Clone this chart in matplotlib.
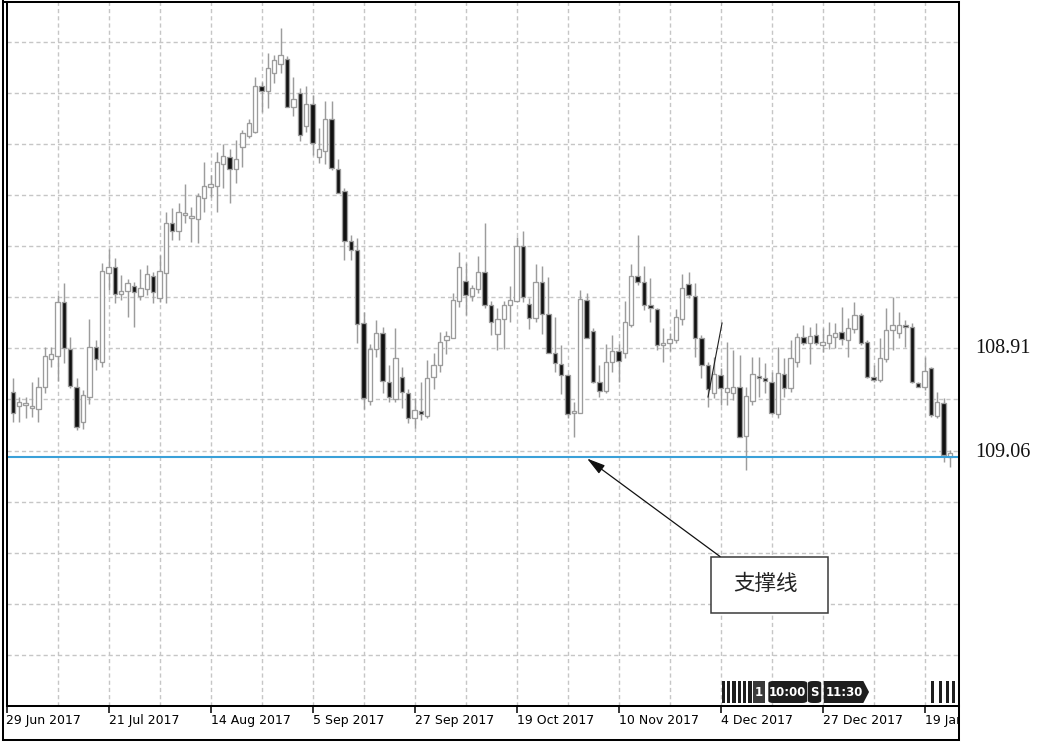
import matplotlib
matplotlib.use("Agg")
import matplotlib.pyplot as plt
import numpy as np
from matplotlib.patches import Rectangle, Polygon, FancyBboxPatch, ArrowStyle
from matplotlib.lines import Line2D
from matplotlib.transforms import Bbox, TransformedBbox, blended_transform_factory

# ---------------- data ----------------
open_ = [109.608, 109.594, 109.595, 109.592, 109.591, 109.613, 109.641, 109.644, 109.698, 109.651,
         109.613, 109.578, 109.603, 109.653, 109.638, 109.727, 109.733, 109.706, 109.709, 109.714,
         109.704, 109.711, 109.724, 109.702, 109.727, 109.777, 109.769, 109.785, 109.782, 109.781,
         109.802, 109.813, 109.814, 109.836, 109.843, 109.831, 109.853, 109.864, 109.868, 109.914,
         109.909, 109.927, 109.936, 109.941, 109.893, 109.907, 109.874, 109.896, 109.843, 109.849,
         109.881, 109.831, 109.809, 109.759, 109.750, 109.677, 109.599, 109.651, 109.667, 109.618,
         109.601, 109.623, 109.607, 109.582, 109.589, 109.584, 109.623, 109.635, 109.660, 109.662,
         109.699, 109.719, 109.704, 109.711, 109.728, 109.695, 109.666, 109.681, 109.695, 109.699,
         109.754, 109.696, 109.682, 109.718, 109.686, 109.647, 109.636, 109.625, 109.587, 109.587,
         109.700, 109.669, 109.618, 109.609, 109.638, 109.649, 109.647, 109.675, 109.724, 109.718,
         109.695, 109.691, 109.655, 109.657, 109.660, 109.681, 109.716, 109.704, 109.662, 109.635,
         109.607, 109.625, 109.608, 109.607, 109.613, 109.564, 109.599, 109.624, 109.622, 109.618,
         109.586, 109.626, 109.612, 109.638, 109.663, 109.657, 109.665, 109.655, 109.657, 109.663,
         109.668, 109.660, 109.671, 109.685, 109.658, 109.623, 109.620, 109.641, 109.670, 109.667,
         109.674, 109.673, 109.617, 109.613, 109.632, 109.584, 109.597, 109.543]
high_ = [109.622, 109.603, 109.603, 109.618, 109.623, 109.653, 109.653, 109.705, 109.717, 109.663,
         109.622, 109.610, 109.681, 109.660, 109.737, 109.751, 109.742, 109.725, 109.721, 109.718,
         109.731, 109.735, 109.728, 109.745, 109.788, 109.792, 109.797, 109.816, 109.793, 109.807,
         109.838, 109.825, 109.848, 109.856, 109.851, 109.860, 109.870, 109.881, 109.923, 109.918,
         109.947, 109.945, 109.972, 109.944, 109.923, 109.912, 109.914, 109.905, 109.872, 109.899,
         109.899, 109.841, 109.812, 109.765, 109.762, 109.688, 109.656, 109.680, 109.673, 109.635,
         109.672, 109.633, 109.611, 109.602, 109.618, 109.640, 109.647, 109.668, 109.669, 109.707,
         109.748, 109.737, 109.715, 109.744, 109.777, 109.699, 109.692, 109.699, 109.714, 109.763,
         109.769, 109.702, 109.736, 109.734, 109.723, 109.683, 109.655, 109.626, 109.598, 109.710,
         109.707, 109.672, 109.635, 109.656, 109.665, 109.656, 109.699, 109.736, 109.765, 109.734,
         109.722, 109.692, 109.672, 109.667, 109.691, 109.726, 109.728, 109.717, 109.665, 109.638,
         109.643, 109.632, 109.658, 109.650, 109.645, 109.613, 109.643, 109.643, 109.637, 109.628,
         109.653, 109.642, 109.660, 109.667, 109.675, 109.673, 109.677, 109.672, 109.678, 109.677,
         109.693, 109.682, 109.698, 109.687, 109.660, 109.635, 109.662, 109.692, 109.703, 109.688,
         109.680, 109.677, 109.618, 109.643, 109.633, 109.608, 109.602, 109.550]
low_ = [109.578, 109.578, 109.582, 109.583, 109.578, 109.607, 109.633, 109.619, 109.637, 109.612,
        109.570, 109.571, 109.596, 109.630, 109.633, 109.710, 109.697, 109.700, 109.683, 109.673,
        109.700, 109.705, 109.697, 109.698, 109.697, 109.760, 109.760, 109.777, 109.758, 109.757,
        109.788, 109.803, 109.788, 109.812, 109.797, 109.817, 109.833, 109.862, 109.867, 109.888,
        109.892, 109.917, 109.927, 109.893, 109.884, 109.859, 109.868, 109.845, 109.837, 109.836,
        109.830, 109.807, 109.740, 109.740, 109.657, 109.591, 109.595, 109.643, 109.607, 109.598,
        109.598, 109.592, 109.577, 109.572, 109.580, 109.582, 109.611, 109.628, 109.646, 109.662,
        109.693, 109.685, 109.699, 109.707, 109.692, 109.665, 109.650, 109.651, 109.678, 109.698,
        109.698, 109.671, 109.678, 109.666, 109.647, 109.628, 109.606, 109.582, 109.563, 109.587,
        109.662, 109.617, 109.603, 109.607, 109.628, 109.618, 109.642, 109.673, 109.715, 109.690,
        109.678, 109.650, 109.638, 109.649, 109.657, 109.675, 109.702, 109.643, 109.622, 109.593,
        109.602, 109.595, 109.595, 109.600, 109.563, 109.530, 109.595, 109.603, 109.607, 109.586,
        109.582, 109.603, 109.608, 109.633, 109.655, 109.636, 109.655, 109.648, 109.651, 109.652,
        109.655, 109.643, 109.667, 109.655, 109.622, 109.618, 109.618, 109.638, 109.650, 109.662,
        109.653, 109.617, 109.613, 109.610, 109.583, 109.582, 109.538, 109.533]
close_ = [109.587, 109.598, 109.597, 109.594, 109.613, 109.644, 109.646, 109.698, 109.652, 109.614,
          109.573, 109.605, 109.653, 109.641, 109.729, 109.733, 109.706, 109.709, 109.717, 109.708,
          109.712, 109.726, 109.708, 109.729, 109.777, 109.769, 109.788, 109.787, 109.784, 109.804,
          109.814, 109.816, 109.838, 109.844, 109.831, 109.841, 109.867, 109.877, 109.914, 109.909,
          109.932, 109.940, 109.945, 109.893, 109.901, 109.865, 109.896, 109.857, 109.851, 109.881,
          109.832, 109.807, 109.759, 109.750, 109.676, 109.602, 109.651, 109.667, 109.619, 109.603,
          109.642, 109.608, 109.582, 109.590, 109.586, 109.622, 109.635, 109.658, 109.664, 109.700,
          109.733, 109.705, 109.712, 109.728, 109.695, 109.678, 109.681, 109.695, 109.700, 109.754,
          109.703, 109.682, 109.718, 109.686, 109.647, 109.637, 109.625, 109.586, 109.589, 109.701,
          109.662, 109.618, 109.609, 109.638, 109.649, 109.639, 109.678, 109.724, 109.718, 109.695,
          109.692, 109.655, 109.657, 109.661, 109.683, 109.712, 109.705, 109.662, 109.635, 109.611,
          109.626, 109.612, 109.612, 109.613, 109.563, 109.604, 109.626, 109.622, 109.619, 109.587,
          109.627, 109.612, 109.642, 109.663, 109.657, 109.664, 109.657, 109.658, 109.665, 109.667,
          109.661, 109.672, 109.685, 109.657, 109.623, 109.620, 109.642, 109.670, 109.675, 109.675,
          109.673, 109.618, 109.613, 109.629, 109.585, 109.598, 109.545, 109.547]

tick_bars = [-1, 15, 31, 47, 63, 79, 95, 111, 127, 143]
tick_labels = ["29 Jun 2017", "21 Jul 2017", "14 Aug 2017", "5 Sep 2017", "27 Sep 2017",
               "19 Oct 2017", "10 Nov 2017", "4 Dec 2017", "27 Dec 2017", "19 Jan 2018"]

support_level = 109.543
trend_x = [109.04, 111.24]
trend_y = [109.603, 109.677]

price_labels = ["108.91", "109.06"]
annotation_text = "支撑线"

event_bars = [111.44, 112.29, 113.12, 113.95, 114.79, 115.63, 144.3, 145.5, 146.6, 147.6]
event_tags = [("1", 116.1, 118.0), ("10:00", 118.5, 124.6), ("S", 124.7, 126.8), ("11:30", 127.2, 134.3)]

# ---------------- figure ----------------
W, H = 1038, 743
fig = plt.figure(figsize=(W / 100, H / 100), dpi=100, facecolor="white")


def fx(px):
    return px / W


def fy(py):
    return 1 - py / H


AX_L, AX_R, AX_T, AX_B = 6.5, 959.0, 1.5, 705.8
ax = fig.add_axes([fx(AX_L), fy(AX_B), (AX_R - AX_L) / W, (AX_B - AX_T) / H])
ax.set_facecolor("white")
ax.set_xlim(-1, 148.41)
ax.set_ylim(109.2942, 109.9985)

# grid
grid_kw = dict(color="#c6c6c6", lw=1.0, ls=(0, (3, 2.2)), zorder=1)
for gx in np.arange(7, 148, 8):
    ax.axvline(gx, **grid_kw)
for gy in 109.9583 - 0.0511 * np.arange(13):
    ax.axhline(gy, **grid_kw)

# candles
o = np.array(open_); h = np.array(high_); l = np.array(low_); c = np.array(close_)
idx = np.arange(len(o))
up = c >= o
wick_c = "#9c9c9c"
ax.vlines(idx, l, h, color=wick_c, lw=1.05, zorder=3)
body_lo = np.minimum(o, c)
body_h = np.maximum(np.abs(c - o), 0.0016)
ax.bar(idx, body_h, bottom=body_lo, width=0.68,
       color=np.where(up, "white", "#111111"), edgecolor=wick_c, linewidth=0.95, zorder=4)

# trend line fragment
ax.plot(trend_x, trend_y, color="#202020", lw=0.8, zorder=5)

# support line
ax.axhline(support_level, color="#3aa0d8", lw=1.5, zorder=6)

# annotation box + arrow
def axfx(px):
    return (px - AX_L) / (AX_R - AX_L)


def axfy(py):
    return (AX_B - py) / (AX_B - AX_T)


box = Rectangle((axfx(711), axfy(613)), axfx(828) - axfx(711), axfy(557) - axfy(613),
                transform=ax.transAxes, facecolor="white", edgecolor="#3a3a3a", lw=1.1, zorder=8)
ax.add_patch(box)
ax.text(axfx(766), axfy(584), annotation_text, transform=ax.transAxes, ha="center", va="center",
        fontsize=15.5, family=["Noto Sans CJK SC", "DejaVu Sans"], color="#222222", zorder=9)
ax.annotate("", xy=(90.06, support_level - 0.0015), xycoords="data",
            xytext=(axfx(720), axfy(556.5)), textcoords="axes fraction",
            arrowprops=dict(arrowstyle=ArrowStyle("-|>", head_length=0.8, head_width=0.22),
                            mutation_scale=14, color="#111111", lw=0.9, shrinkA=0, shrinkB=0),
            zorder=9)

# event markers on time axis
bt = blended_transform_factory(ax.transData, ax.transAxes)
ey0, ey1 = axfy(703), axfy(681)
ev_c = "#1e1e1e"
for ex in event_bars:
    ax.add_patch(Rectangle((ex - 0.24, ey0), 0.48, ey1 - ey0, transform=bt, color=ev_c, lw=0, zorder=7,
                           clip_on=True))
for lab, x0, x1 in event_tags:
    if lab == "11:30":
        pts = [(x0, ey0), (x1 - 0.9, ey0), (x1, (ey0 + ey1) / 2), (x1 - 0.9, ey1), (x0, ey1)]
        ax.add_patch(Polygon(pts, closed=True, transform=bt, color=ev_c, lw=0, zorder=7))
    elif lab == "10:00" or lab == "S":
        ax.add_patch(FancyBboxPatch((x0, ey0), x1 - x0, ey1 - ey0,
                                    boxstyle="round,pad=0,rounding_size=0.8", mutation_aspect=0.004,
                                    transform=bt, color=ev_c, lw=0, zorder=7))
    else:
        ax.add_patch(Rectangle((x0, ey0), x1 - x0, ey1 - ey0, transform=bt, color="#3a3a3a", lw=0, zorder=7))
    ax.text((x0 + x1) / 2 - (0.3 if lab == "11:30" else 0), (ey0 + ey1) / 2, lab, transform=bt,
            ha="center", va="center", color="white", fontsize=8.5, fontweight="bold", zorder=8)

# axes styling
for s in ax.spines.values():
    s.set_color("black")
    s.set_linewidth(1.45)
    s.set_zorder(10)
ax.set_yticks([])
ax.set_xticks(tick_bars)
ax.set_xticklabels(tick_labels)
ax.tick_params(axis="x", direction="out", length=5, width=1.1, pad=1.0, labelsize=9, colors="black")
for lab in ax.get_xticklabels():
    lab.set_horizontalalignment("left")
clipbox = TransformedBbox(Bbox([[0, 0], [fx(958), 1]]), fig.transFigure)
last = ax.get_xticklabels()[-1]
last.set_clip_box(clipbox)
last.set_clip_on(True)

# outer window frame
frame_kw = dict(color="black", lw=1.45, transform=fig.transFigure)
fig.add_artist(Line2D([fx(3.3), fx(3.3)], [fy(0.8), fy(740.3)], **frame_kw))
fig.add_artist(Line2D([fx(3.3), fx(959)], [fy(740.3), fy(740.3)], **frame_kw))
fig.add_artist(Line2D([fx(959), fx(959)], [fy(705.8), fy(740.3)], **frame_kw))
fig.add_artist(Line2D([fx(3.3), fx(6.5)], [fy(1.5), fy(1.5)], **frame_kw))

# right-side price labels
for txt, base in zip(price_labels, [353, 457]):
    fig.text(fx(975), fy(base), txt, ha="left", va="baseline", fontsize=14.5,
             family=["Liberation Serif", "DejaVu Serif"], color="#111111")

fig.savefig("out.png", dpi=100, facecolor="white")
